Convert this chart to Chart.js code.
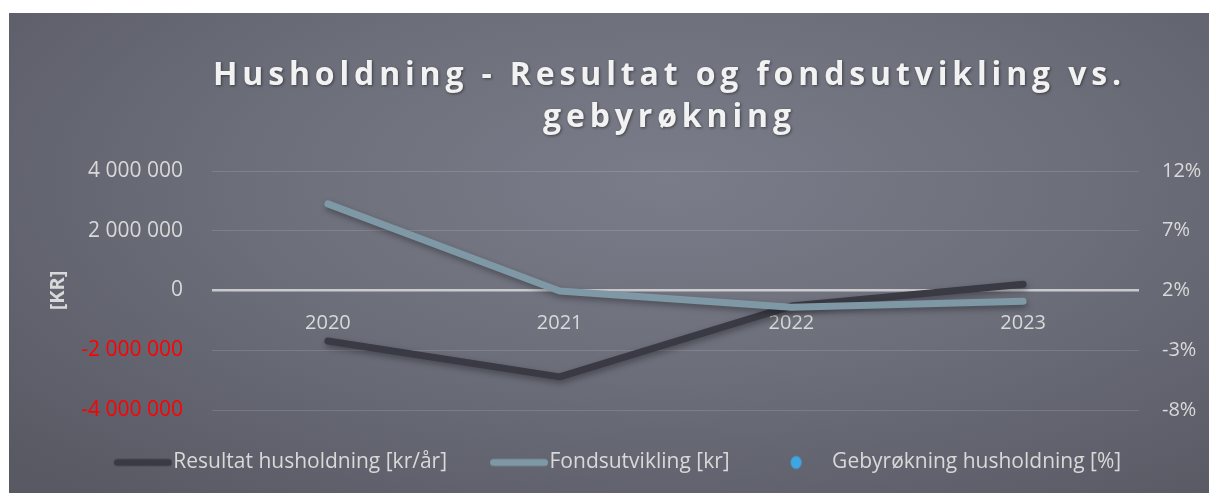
<!DOCTYPE html>
<html>
<head>
<meta charset="utf-8">
<script src="https://cdn.jsdelivr.net/npm/chart.js@4/dist/chart.umd.min.js"></script>
<style>
  html, body { margin: 0; padding: 0; background: #fff; }
  #wrap {
    position: absolute; left: 9px; top: 13px; width: 1200px; height: 480px;
    background: radial-gradient(ellipse 75% 85% at 55% 35%, #7a7c89 0%, #6d6f7b 45%, #585963 100%);
  }
</style>
</head>
<body>
<div id="wrap"><canvas id="chart" width="1200" height="480"></canvas></div>
<script>
var years = ["2020", "2021", "2022", "2023"];
var resultat = [-1690000, -2890000, -520000, 210000];
var fond = [2900000, -20000, -560000, -360000];
var gebyr = [null, null, null, null];
var titleLines = ["Husholdning - Resultat og fondsutvikling vs.", "gebyrøkning"];

var tickColor = "#d9d9d9";
var font = "'Open Sans', sans-serif";

function fmt(v) {
  var s = String(Math.abs(v)).replace(/\B(?=(\d{3})+(?!\d))/g, " ");
  return (v < 0 ? "-" : "") + s;
}

// legend swatches
function lineSwatch(color) {
  var c = document.createElement("canvas");
  c.width = 72; c.height = 10;
  var g = c.getContext("2d");
  g.strokeStyle = color; g.lineWidth = 7; g.lineCap = "round";
  g.beginPath(); g.moveTo(15.5, 5); g.lineTo(66.5, 5); g.stroke();
  return c;
}
function dotSwatch(color) {
  var c = document.createElement("canvas");
  c.width = 72; c.height = 16;
  var g = c.getContext("2d");
  g.fillStyle = color;
  g.beginPath(); g.ellipse(35.5, 8, 5.5, 6.5, 0, 0, Math.PI * 2); g.fill();
  return c;
}
var swatches = [lineSwatch("#3a3a44"), lineSwatch("#7f98a5"), dotSwatch("#3ea6e3")];

var titlePlugin = {
  id: "titleText",
  afterDraw: function (chart) {
    var ctx = chart.ctx;
    ctx.save();
    ctx.font = "bold 32px " + font;
    ctx.fillStyle = "#f2f2f2";
    ctx.textAlign = "center";
    ctx.textBaseline = "alphabetic";
    ctx.shadowColor = "rgba(0,0,0,0.45)";
    ctx.shadowBlur = 3;
    ctx.shadowOffsetX = 1;
    ctx.shadowOffsetY = 1;
    ctx.letterSpacing = "0px";
    var w = ctx.measureText(titleLines[0]).width;
    var ls = (913 - w) / titleLines[0].length;
    ctx.letterSpacing = ls + "px";
    ctx.fillText(titleLines[0], 658 + ls / 2, 72);
    ctx.fillText(titleLines[1], 658 + ls / 2, 114);
    ctx.restore();
  }
};

var shadowPlugin = {
  id: "lineShadow",
  beforeDatasetDraw: function (chart) {
    var ctx = chart.ctx;
    ctx.save();
    ctx.shadowColor = "rgba(0,0,0,0.35)";
    ctx.shadowBlur = 6;
    ctx.shadowOffsetX = 1;
    ctx.shadowOffsetY = 3;
  },
  afterDatasetDraw: function (chart) {
    chart.ctx.restore();
  }
};

var ctx = document.getElementById("chart").getContext("2d");

var myChart = new Chart(ctx, {
  type: "line",
  data: {
    labels: years,
    datasets: [{
        label: "Resultat husholdning [kr/år]",
        data: resultat,
        yAxisID: "y",
        borderColor: "#3a3a44",
        backgroundColor: "#3a3a44",
        borderWidth: 7,
        borderCapStyle: "round",
        borderJoinStyle: "round",
        pointRadius: 0,
        order: 1
      },
      {
        label: "Fondsutvikling [kr]",
        data: fond,
        yAxisID: "y",
        borderColor: "#7f98a5",
        backgroundColor: "#7f98a5",
        borderWidth: 7,
        borderCapStyle: "round",
        borderJoinStyle: "round",
        pointRadius: 0,
        order: 0
      },
      {
        label: "Gebyrøkning husholdning [%]",
        data: gebyr,
        yAxisID: "y1",
        showLine: false,
        borderColor: "#3ea6e3",
        backgroundColor: "#3ea6e3",
        pointRadius: 5,
        order: 2
      }
    ]
  },
  options: {
    responsive: false,
    animation: false,
    layout: {
      padding: { top: 158, bottom: 10, left: 16, right: 0 }
    },
    scales: {
      x: {
        type: "category",
        offset: true,
        position: { y: 0 },
        grid: { display: false },
        border: { display: false },
        ticks: {
          color: tickColor,
          padding: 13,
          font: { family: font, size: 20 }
        }
      },
      y: {
        position: "left",
        min: -4000000,
        max: 4000000,
        afterFit: function (s) { s.width = 187; },
        border: { display: false },
        grid: {
          drawTicks: false,
          color: function (c) { return c.tick.value === 0 ? "rgba(225,225,228,0.8)" : "rgba(255,255,255,0.13)"; },
          lineWidth: function (c) { return c.tick.value === 0 ? 2.5 : 1; }
        },
        ticks: {
          stepSize: 2000000,
          padding: 29,
          color: function (c) { return c.tick.value < 0 ? "#ff0000" : tickColor; },
          font: { family: font, size: 21 },
          callback: function (v) { return fmt(v); }
        },
        title: {
          display: true,
          text: "[KR]",
          color: tickColor,
          padding: { top: 21, bottom: 0 },
          font: { family: font, size: 20, weight: "bold" }
        }
      },
      y1: {
        position: "right",
        min: -8,
        max: 12,
        afterFit: function (s) { s.width = 70; },
        border: { display: false },
        grid: { display: false, drawTicks: false },
        ticks: {
          stepSize: 5,
          padding: 23,
          color: tickColor,
          font: { family: font, size: 20 },
          callback: function (v) { return v + "%"; }
        }
      }
    },
    plugins: {
      title: { display: false },
      tooltip: { enabled: false },
      legend: {
        display: true,
        position: "bottom",
        labels: {
          usePointStyle: true,
          pointStyleWidth: 50,
          padding: 42,
          color: tickColor,
          font: { family: font, size: 21 },
          sort: function (a, b) { return a.datasetIndex - b.datasetIndex; },
          generateLabels: function (chart) {
            var items = Chart.defaults.plugins.legend.labels.generateLabels(chart);
            items.forEach(function (it) { it.pointStyle = swatches[it.datasetIndex]; });
            return items;
          }
        }
      }
    }
  },
  plugins: [titlePlugin, shadowPlugin]
});
</script>
</body>
</html>
